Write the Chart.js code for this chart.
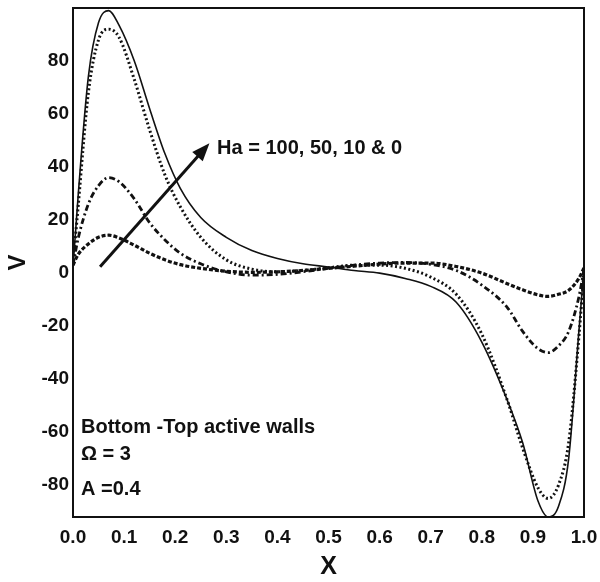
<!DOCTYPE html>
<html lang="en">
<head>
    <meta charset="UTF-8">
    <title>V profile</title>
    <script src="https://cdn.jsdelivr.net/npm/chart.js"></script>
    <style>
        html, body { margin: 0; padding: 0; background: #fff; }
        #wrap { width: 600px; height: 582px; }
    </style>
</head>
<body>
<div id="wrap"><canvas id="vChart" width="600" height="582"></canvas></div>
<script>
    // x positions shared by all four curves
    const xValues = [0, 0.01, 0.03, 0.05, 0.07, 0.09, 0.12, 0.15, 0.18, 0.21, 0.25, 0.3, 0.35, 0.4, 0.45,
                     0.5, 0.55, 0.6, 0.65, 0.7, 0.75, 0.8, 0.85, 0.88, 0.91, 0.93, 0.95, 0.97, 0.99, 1.0];

    const vHa0 = [2, 29, 74, 94.5, 99, 93.5, 80, 62, 45, 32, 21, 13.5, 8.5, 5.5, 3.5,
                  2.3, 1, 0, -2, -5, -11, -26, -48, -64, -86, -92, -88, -70, -22, 2];
    const vHa10 = [3, 25, 68, 88, 92, 89, 73, 54, 37, 25, 13.5, 5, 1.5, 0.5, 1,
                   2, 3, 3, 1.8, -1.5, -8, -23, -48, -66, -81, -85, -80, -64, -24, 1];
    const vHa50 = [3, 13, 26, 33, 36, 34.5, 28, 19, 12.5, 7.5, 3.5, 0.5, -0.8, -0.5, 0.5,
                   1.8, 3, 3.8, 4, 3.3, 1, -4.5, -13, -22, -28.5, -30, -27.5, -22, -9, 1.5];
    const vHa100 = [3, 7, 11, 13.5, 14.3, 13.3, 10.5, 7.5, 5, 3.2, 1.8, 0.7, 0.3, 0.5, 1,
                    1.8, 2.6, 3.4, 3.8, 3.8, 2.5, 0, -4, -6.3, -8.2, -8.8, -8, -6.5, -2, 2];

    const xTicks = [0, 0.1, 0.2, 0.3, 0.4, 0.5, 0.6, 0.7, 0.8, 0.9, 1.0];
    const yTicks = [-80, -60, -40, -20, 0, 20, 40, 60, 80];

    const FONT = "'Liberation Sans', Arial, sans-serif";

    function toPoints(ys) {
        return xValues.map((x, i) => ({ x: x, y: ys[i] }));
    }

    // frame, arrow and the text notes inside the plot
    const extras = {
        id: 'extras',
        afterDatasetsDraw(chart) {
            const ctx = chart.ctx;
            const a = chart.chartArea;
            const xs = chart.scales.x, ys = chart.scales.y;
            ctx.save();
            ctx.strokeStyle = '#111';
            ctx.lineWidth = 2;
            ctx.strokeRect(a.left, a.top, a.right - a.left, a.bottom - a.top);

            // arrow
            const x0 = xs.getPixelForValue(0.053), y0 = ys.getPixelForValue(2.4);
            const x1 = xs.getPixelForValue(0.267), y1 = ys.getPixelForValue(49);
            const ang = Math.atan2(y1 - y0, x1 - x0);
            ctx.lineWidth = 3;
            ctx.beginPath();
            ctx.moveTo(x0, y0);
            ctx.lineTo(x1 - 10 * Math.cos(ang), y1 - 10 * Math.sin(ang));
            ctx.stroke();
            ctx.fillStyle = '#111';
            ctx.beginPath();
            ctx.moveTo(x1, y1);
            ctx.lineTo(x1 - 18 * Math.cos(ang) + 7 * Math.sin(ang), y1 - 18 * Math.sin(ang) - 7 * Math.cos(ang));
            ctx.lineTo(x1 - 18 * Math.cos(ang) - 7 * Math.sin(ang), y1 - 18 * Math.sin(ang) + 7 * Math.cos(ang));
            ctx.closePath();
            ctx.fill();

            ctx.font = 'bold 20px ' + FONT;
            ctx.textBaseline = 'middle';
            ctx.textAlign = 'left';
            ctx.fillText('Ha = 100, 50, 10 & 0', xs.getPixelForValue(0.282), ys.getPixelForValue(47));
            ctx.fillText('Bottom -Top active walls', xs.getPixelForValue(0.0157), ys.getPixelForValue(-58.4));
            ctx.fillText('\u03A9 = 3', xs.getPixelForValue(0.0157), ys.getPixelForValue(-68.5));
            ctx.fillText('A =0.4', xs.getPixelForValue(0.0157), ys.getPixelForValue(-81.7));
            ctx.restore();
        }
    };

    const lineBase = {
        borderColor: '#111',
        backgroundColor: '#111',
        fill: false,
        pointRadius: 0,
        cubicInterpolationMode: 'monotone'
    };

    new Chart(document.getElementById('vChart'), {
        type: 'line',
        data: {
            datasets: [
                Object.assign({ label: 'Ha = 0', data: toPoints(vHa0), borderWidth: 1.6 }, lineBase),
                Object.assign({ label: 'Ha = 10', data: toPoints(vHa10), borderWidth: 3, borderDash: [2, 2.5] }, lineBase),
                Object.assign({ label: 'Ha = 50', data: toPoints(vHa50), borderWidth: 2.8, borderDash: [6, 3, 2, 3] }, lineBase),
                Object.assign({ label: 'Ha = 100', data: toPoints(vHa100), borderWidth: 3.2, borderDash: [4, 2] }, lineBase)
            ]
        },
        options: {
            responsive: false,
            animation: false,
            layout: { padding: { left: 0, right: 16, top: 8, bottom: 0 } },
            plugins: {
                legend: { display: false },
                tooltip: { enabled: false }
            },
            scales: {
                x: {
                    type: 'linear',
                    min: 0,
                    max: 1,
                    grid: { display: false, drawTicks: false },
                    border: { display: true, color: '#111', width: 2 },
                    afterBuildTicks: s => { s.ticks = xTicks.map(v => ({ value: v })); },
                    afterFit: s => { s.height = 65; s.paddingLeft = 0; s.paddingRight = 0; },
                    ticks: {
                        color: '#111',
                        padding: 9,
                        maxRotation: 0,
                        font: { family: FONT, size: 19, weight: 'bold' },
                        callback: v => Number(v).toFixed(1)
                    },
                    title: {
                        display: true,
                        text: 'X',
                        color: '#111',
                        padding: { top: 0, bottom: 0 },
                        font: { family: FONT, size: 25, weight: 'bold', lineHeight: 1.2 }
                    }
                },
                y: {
                    type: 'linear',
                    min: -92,
                    max: 100,
                    grid: { display: false, drawTicks: false },
                    border: { display: true, color: '#111', width: 2 },
                    afterBuildTicks: s => { s.ticks = yTicks.map(v => ({ value: v })); },
                    afterFit: s => { s.width = 73; s.paddingTop = 0; s.paddingBottom = 0; },
                    ticks: {
                        color: '#111',
                        padding: 4,
                        font: { family: FONT, size: 19, weight: 'bold' }
                    },
                    title: {
                        display: true,
                        text: 'V',
                        color: '#111',
                        padding: { top: 5, bottom: 0 },
                        font: { family: FONT, size: 24, weight: 'bold', lineHeight: 1.1 }
                    }
                }
            }
        },
        plugins: [extras]
    });
</script>
</body>
</html>
